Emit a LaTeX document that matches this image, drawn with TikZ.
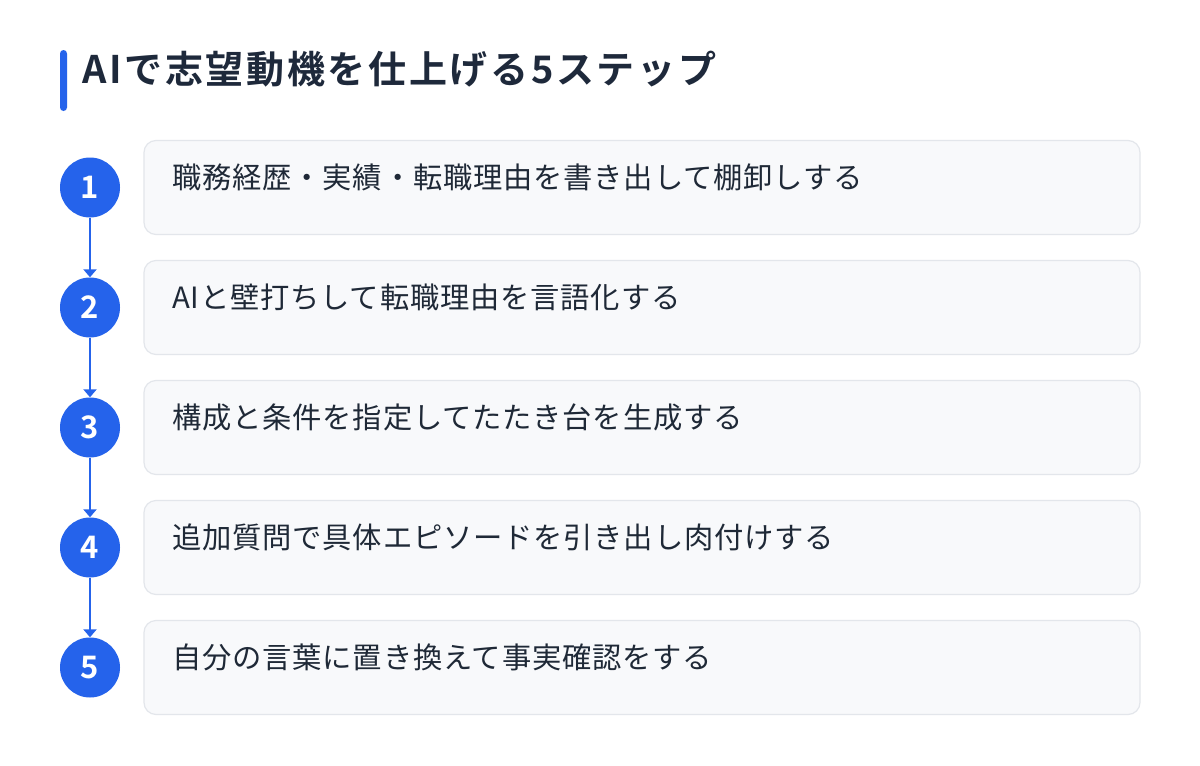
\documentclass[tikz,border=0pt]{standalone}
\usepackage{fontspec}
\newfontfamily\jp{Noto Sans CJK JP}[LetterSpace=2.8]
\newfontfamily\jpb{Noto Sans CJK JP Bold}
\newfontfamily\jptitle{Noto Sans CJK JP Bold}[LetterSpace=7]
\usetikzlibrary{arrows.meta}
\definecolor{accent}{HTML}{2563EB}
\definecolor{titlecol}{HTML}{1E293B}
\definecolor{bodycol}{HTML}{1F2937}
\definecolor{boxfill}{HTML}{F8F9FB}
\definecolor{boxline}{HTML}{E3E6EB}
\tikzset{
  stepcard/.style={draw=boxline, line width=1.2pt, fill=boxfill, rounded corners=12pt},
  stepnum/.style={circle, fill=accent, minimum size=60pt, inner sep=0pt, text=white, font=\jpb\fontsize{31}{31}\selectfont},
  steptext/.style={anchor=base west, inner sep=0pt, text=bodycol, font=\jp\fontsize{29.3}{30}\selectfont},
  steplink/.style={draw=accent, line width=2pt, -{Triangle[width=13pt,length=8pt]}},
}
\begin{document}
\begin{tikzpicture}[x=1pt,y=-1pt]
\useasboundingbox[fill=white] (0,0) rectangle (1200,766);
\fill[accent, rounded corners=3.5pt] (60,50) rectangle (67,111);
\node[anchor=base west, inner sep=0pt, text=titlecol, font=\jptitle\fontsize{38}{40}\selectfont] (title) at (82,83) {AIで志望動機を仕上げる5ステップ};
\foreach \i/\t in {1/職務経歴・実績・転職理由を書き出して棚卸しする,2/AIと壁打ちして転職理由を言語化する,3/構成と条件を指定してたたき台を生成する,4/追加質問で具体エピソードを引き出し肉付けする,5/自分の言葉に置き換えて事実確認をする}{
  \pgfmathsetmacro{\yc}{187.5+120*(\i-1)}
  \draw[stepcard] (144,\yc-47) rectangle (1140,\yc+47);
  \node[steptext] (t\i) at (172,\yc+1) {\t};
  \node[stepnum] (n\i) at (90,\yc) {\i};
}
\foreach \a/\b in {1/2,2/3,3/4,4/5}{
  \draw[steplink] (n\a.south) -- (n\b.north);
}
\end{tikzpicture}
\end{document}
